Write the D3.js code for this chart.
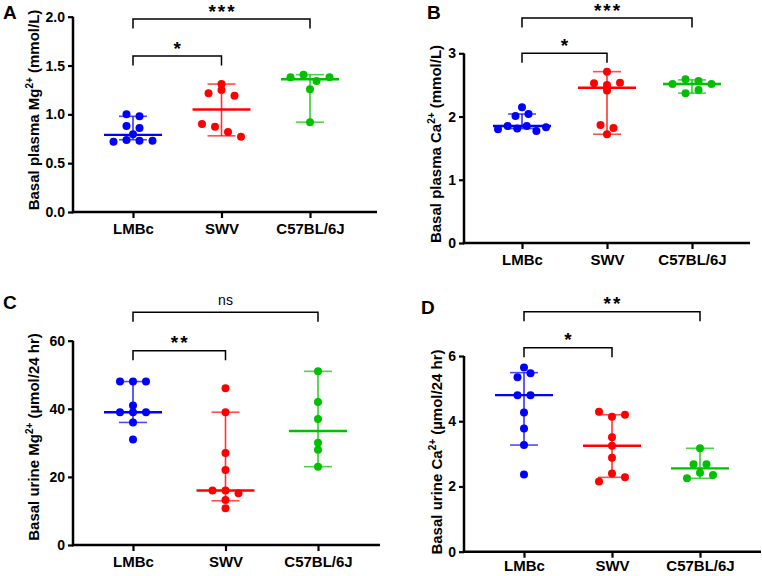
<!DOCTYPE html>
<html>
<head>
<meta charset="utf-8">
<script src="https://cdn.jsdelivr.net/npm/d3@7"></script>
<style>
  html, body { margin: 0; padding: 0; background: #fff; }
  svg text { font-family: "Liberation Sans", Arial, Helvetica, sans-serif; }
</style>
</head>
<body>
<svg id="chart" width="762" height="576"></svg>
<script>
// ---------------- DATA ----------------
const categories = ["LMBc", "SWV", "C57BL/6J"];
const colors = ["#0000ff", "#ff0000", "#00c000"];

// Panel A: Basal plasma Mg2+ (mmol/L)
const plasmaMg_LMBc = [1.00, 0.98, 0.88, 0.86, 0.795, 0.72, 0.737, 0.73, 0.73];
const plasmaMg_SWV  = [1.31, 1.215, 1.25, 1.19, 0.90, 0.874, 0.82, 0.77];
const plasmaMg_C57  = [1.38, 1.406, 1.341, 1.38, 1.256, 0.92];
const plasmaMg_median = [0.79, 1.05, 1.36];
const plasmaMg_low    = [0.74, 0.78, 0.92];
const plasmaMg_high   = [0.98, 1.31, 1.406];
const plasmaMg_ticks  = [0, 0.5, 1.0, 1.5, 2.0];

// Panel B: Basal plasma Ca2+ (mmol/L)
const plasmaCa_LMBc = [2.145, 2.01, 2.04, 1.80, 1.85, 1.81, 1.85, 1.77, 1.83];
const plasmaCa_SWV  = [2.71, 2.525, 2.50, 2.535, 2.41, 1.865, 1.82, 1.72];
const plasmaCa_C57  = [2.515, 2.59, 2.56, 2.515, 2.37, 2.42];
const plasmaCa_median = [1.85, 2.456, 2.515];
const plasmaCa_low    = [1.81, 1.72, 2.37];
const plasmaCa_high   = [2.04, 2.71, 2.58];
const plasmaCa_ticks  = [0, 1, 2, 3];

// Panel C: Basal urine Mg2+ (µmol/24 hr)
const urineMg_LMBc = [48, 48, 48, 41, 39, 39, 39, 36, 31];
const urineMg_SWV  = [46, 39, 27, 22, 16, 16, 15.2, 13.2, 10.8];
const urineMg_C57  = [51, 42, 37, 30, 28, 23];
const urineMg_median = [39, 16, 33.5];
const urineMg_low    = [36, 13, 23];
const urineMg_high   = [48, 39, 51];
const urineMg_ticks  = [0, 20, 40, 60];

// Panel D: Basal urine Ca2+ (µmol/24 hr)
const urineCa_LMBc = [5.65, 5.35, 5.47, 4.80, 4.80, 4.27, 3.78, 3.27, 2.37];
const urineCa_SWV  = [4.29, 4.14, 4.20, 3.51, 3.25, 2.88, 2.15, 2.40, 2.28];
const urineCa_C57  = [3.17, 2.68, 2.68, 2.25, 2.42, 2.35];
const urineCa_median = [4.80, 3.25, 2.555];
const urineCa_low    = [3.27, 2.28, 2.25];
const urineCa_high   = [5.49, 4.20, 3.17];
const urineCa_ticks  = [0, 2, 4, 6];

// Significance labels: [LMBc vs SWV, LMBc vs C57BL/6J]
const sigA = ["*", "***"];
const sigB = ["*", "***"];
const sigC = ["**", "ns"];
const sigD = ["*", "**"];

// ---------------- LAYOUT ----------------
const svg = d3.select("#chart");
const FONT = '"Liberation Sans", Arial, Helvetica, sans-serif';

const panels = [
  { letter: "A", lx: 3, ly: 18.5,
    axisX: 73, axisRight: 377, yBottom: 212, yTop: 16.7, c0: 133, c2: 310, xPad: 5,
    domain: [0, 2], ticks: plasmaMg_ticks, fmt: d3.format(".1f"),
    series: [plasmaMg_LMBc, plasmaMg_SWV, plasmaMg_C57],
    median: plasmaMg_median, low: plasmaMg_low, high: plasmaMg_high,
    ylabel: ["Basal plasma Mg", "2+", " (mmol/L)"], labelX: 38.5, labelY: 110,
    sig: sigA, brY: [56, 19] },
  { letter: "B", lx: 427, ly: 18.5,
    axisX: 464, axisRight: 750, yBottom: 243, yTop: 53.3, c0: 522, c2: 692, xPad: 5,
    domain: [0, 3], ticks: plasmaCa_ticks, fmt: d3.format("d"),
    series: [plasmaCa_LMBc, plasmaCa_SWV, plasmaCa_C57],
    median: plasmaCa_median, low: plasmaCa_low, high: plasmaCa_high,
    ylabel: ["Basal plasma Ca", "2+", " (mmol/L)"], labelX: 441, labelY: 144,
    sig: sigB, brY: [53.3, 18] },
  { letter: "C", lx: 3, ly: 308.5,
    axisX: 73, axisRight: 380, yBottom: 545, yTop: 340.7, c0: 133, c2: 318, xPad: 5,
    domain: [0, 60], ticks: urineMg_ticks, fmt: d3.format("d"),
    series: [urineMg_LMBc, urineMg_SWV, urineMg_C57],
    median: urineMg_median, low: urineMg_low, high: urineMg_high,
    ylabel: ["Basal urine Mg", "2+", " (\u00b5mol/24 hr)"], labelX: 38.5, labelY: 437,
    sig: sigC, brY: [350.7, 312.3] },
  { letter: "D", lx: 421, ly: 313.5,
    axisX: 464, axisRight: 761, yBottom: 551.7, yTop: 356, c0: 524, c2: 700, xPad: 2.5,
    domain: [0, 6], ticks: urineCa_ticks, fmt: d3.format("d"),
    series: [urineCa_LMBc, urineCa_SWV, urineCa_C57],
    median: urineCa_median, low: urineCa_low, high: urineCa_high,
    ylabel: ["Basal urine Ca", "2+", " (\u00b5mol/24 hr)"], labelX: 441.5, labelY: 452,
    sig: sigD, brY: [347.7, 311.7] }
];

// row-based swarm offsets computed from values
function swarm(vals, y, thr = 5.5, maxSpan = 48, baseStep = 13) {
  const order = vals.map((v, i) => i).sort((a, b) => vals[b] - vals[a]);
  const rows = [];
  let cur = null, prevY = null;
  order.forEach(i => {
    const py = y(vals[i]);
    if (!cur || Math.abs(py - prevY) > thr) { cur = []; rows.push(cur); }
    cur.push(i);
    prevY = py;
  });
  const off = new Array(vals.length).fill(0);
  rows.forEach(r => {
    r.sort((a, b) => a - b);
    const n = r.length;
    const step = n > 1 ? Math.min(baseStep, maxSpan / (n - 1)) : 0;
    r.forEach((i, k) => { off[i] = (k - (n - 1) / 2) * step; });
  });
  return off;
}

panels.forEach(p => {
  const g = svg.append("g");
  const y = d3.scaleLinear().domain(p.domain).range([p.yBottom, p.yTop]);
  const x = d3.scalePoint().domain(categories).range([p.c0, p.c2]);

  // Points
  p.series.forEach((vals, ci) => {
    const off = swarm(vals, y);
    g.append("g").selectAll("circle").data(vals).join("circle")
      .attr("cx", (d, i) => x(categories[ci]) + off[i])
      .attr("cy", d => y(d))
      .attr("r", 4)
      .attr("fill", colors[ci]);
  });

  // Median & range bars
  categories.forEach((c, ci) => {
    const cx = x(c);
    const col = colors[ci];
    const eg = g.append("g").attr("stroke", col).attr("fill", "none");
    eg.append("line").attr("x1", cx).attr("x2", cx)
      .attr("y1", y(p.low[ci])).attr("y2", y(p.high[ci]))
      .attr("stroke-width", 1.6).attr("stroke-opacity", 0.8);
    [p.low[ci], p.high[ci]].forEach(v => {
      eg.append("line").attr("x1", cx - 14).attr("x2", cx + 14)
        .attr("y1", y(v)).attr("y2", y(v))
        .attr("stroke-width", 1.6).attr("stroke-opacity", 0.7);
    });
    eg.append("line").attr("x1", cx - 29).attr("x2", cx + 29)
      .attr("y1", y(p.median[ci])).attr("y2", y(p.median[ci]))
      .attr("stroke-width", 2.4);
  });

  // Y axis
  const yAxis = d3.axisLeft(y).tickValues(p.ticks).tickFormat(p.fmt)
    .tickSize(5).tickPadding(3);
  const ya = g.append("g").attr("transform", `translate(${p.axisX},0)`).call(yAxis);
  ya.select(".domain").remove();
  ya.selectAll(".tick line").attr("stroke", "#000").attr("stroke-width", 2.2);
  ya.selectAll(".tick text").attr("font-family", FONT).attr("font-size", 14)
    .attr("font-weight", "bold").attr("fill", "#000");
  g.append("line").attr("x1", p.axisX).attr("x2", p.axisX)
    .attr("y1", p.yBottom + 1.2).attr("y2", p.yTop)
    .attr("stroke", "#000").attr("stroke-width", 2.5);

  // X axis
  const xAxis = d3.axisBottom(x).tickSize(6).tickPadding(p.xPad);
  const xa = g.append("g").attr("transform", `translate(0,${p.yBottom})`).call(xAxis);
  xa.select(".domain").remove();
  xa.selectAll(".tick line").attr("stroke", "#000").attr("stroke-width", 2.2);
  xa.selectAll(".tick text").attr("font-family", FONT).attr("font-size", 15)
    .attr("font-weight", "bold").attr("fill", "#000");
  g.append("line").attr("x1", p.axisX - 1.2).attr("x2", p.axisRight)
    .attr("y1", p.yBottom).attr("y2", p.yBottom)
    .attr("stroke", "#000").attr("stroke-width", 2.5);

  // Y label
  const yl = g.append("text")
    .attr("transform", `translate(${p.labelX},${p.labelY}) rotate(-90)`)
    .attr("text-anchor", "middle")
    .attr("font-family", FONT).attr("font-size", 15).attr("font-weight", "bold")
    .attr("fill", "#000");
  yl.append("tspan").text(p.ylabel[0]);
  yl.append("tspan").attr("font-size", 10).attr("dy", -6).text(p.ylabel[1]);
  yl.append("tspan").attr("dy", 6).text(p.ylabel[2]);

  // Panel letter
  g.append("text").attr("x", p.lx).attr("y", p.ly)
    .attr("font-family", FONT).attr("font-size", 19).attr("font-weight", "bold")
    .attr("fill", "#000").text(p.letter);

  // Significance brackets
  [[0, 1], [0, 2]].forEach((pair, k) => {
    const xa0 = x(categories[pair[0]]), xb = x(categories[pair[1]]);
    const by = p.brY[k];
    g.append("path")
      .attr("d", `M${xa0},${by + 9.5}V${by}H${xb}V${by + 9.5}`)
      .attr("fill", "none").attr("stroke", "#000").attr("stroke-width", 1.5);
    const lab = p.sig[k];
    const isNs = lab === "ns";
    g.append("text").attr("x", (xa0 + xb) / 2 + (isNs ? 0 : 1))
      .attr("y", isNs ? by - 7.5 : by - 1.5)
      .attr("text-anchor", "middle")
      .attr("font-family", FONT)
      .attr("font-size", isNs ? 14 : 19)
      .attr("font-weight", isNs ? "normal" : "bold")
      .attr("letter-spacing", isNs ? 0 : 2)
      .attr("fill", "#000")
      .text(lab);
  });
});
</script>
</body>
</html>
